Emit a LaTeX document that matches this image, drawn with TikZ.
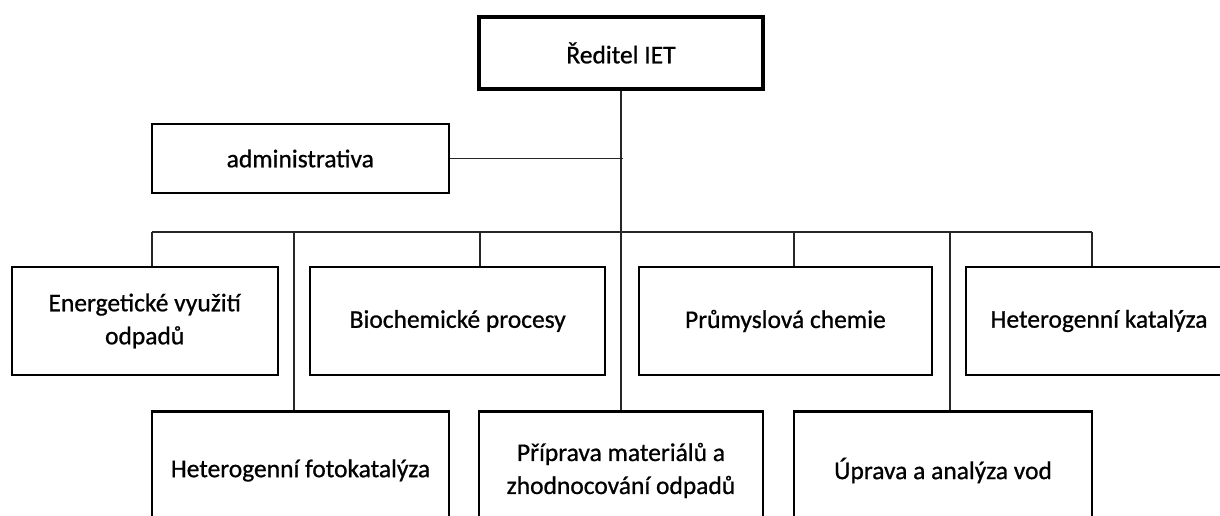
\documentclass[tikz,border=0pt]{standalone}
\usepackage{fontspec}
\setmainfont{Carlito}[FakeBold=0.8]
\usetikzlibrary{calc}
\begin{document}
\begin{tikzpicture}[x=1pt,y=-1pt,
  box/.style={draw=black, line width=2.2pt, inner sep=0pt, align=center,
    font=\fontsize{25.5}{33}\selectfont},
  topbox/.style={box, line width=3.4pt},
  conn/.style={draw=black!85, line width=1.6pt}]
\useasboundingbox (0,0) rectangle (1220,516);
\clip (0,0) rectangle (1220,516);
% boxes
\node[topbox, minimum width=284pt, minimum height=72pt] (red) at (621,53) {Ředitel IET};
\node[box, line width=2pt, minimum width=297pt, minimum height=68pt] (adm) at (300.3,158.5) {administrativa};
\node[box, minimum width=266pt, minimum height=108pt] (ener) at (144.7,321) {Energetické využití\\odpadů};
\node[box, minimum width=295pt, minimum height=108pt] (bio) at (457.7,321) {Biochemické procesy};
\node[box, minimum width=293pt, minimum height=108pt] (prum) at (785.4,321) {Průmyslová chemie};
\node[box, line width=2pt, minimum width=266pt, minimum height=108pt] (kat) at (1099,321) {Heterogenní katalýza};
\node[box, minimum width=297pt, minimum height=118pt] (fot) at (300.5,470.5) {Heterogenní fotokatalýza};
\node[box, minimum width=284pt, minimum height=118pt] (prip) at (621,470.5) {Příprava materiálů a\\zhodnocování odpadů};
\node[box, minimum width=298.6pt, minimum height=118pt] (upr) at (943,470.5) {Úprava a analýza vod};
% bus coordinates
\coordinate (b1) at (152,232);
\coordinate (b2) at (294,232);
\coordinate (b3) at (480,232);
\coordinate (b5) at (794,232);
\coordinate (b6) at (950,232);
\coordinate (b7) at (1092,232);
% connectors
\draw[conn] (red.south) -- (prip.north);
\draw[conn] (adm.east) -- ($(adm.east -| red.south)+(2,0)$);
\draw[conn] (b1) -- (b7);
\draw[conn] (b1) -- (b1 |- ener.north);
\draw[conn] (b2) -- (b2 |- fot.north);
\draw[conn] (b3) -- (b3 |- bio.north);
\draw[conn] (b5) -- (b5 |- prum.north);
\draw[conn] (b6) -- (b6 |- upr.north);
\draw[conn] (b7) -- (b7 |- kat.north);
\end{tikzpicture}
\end{document}
